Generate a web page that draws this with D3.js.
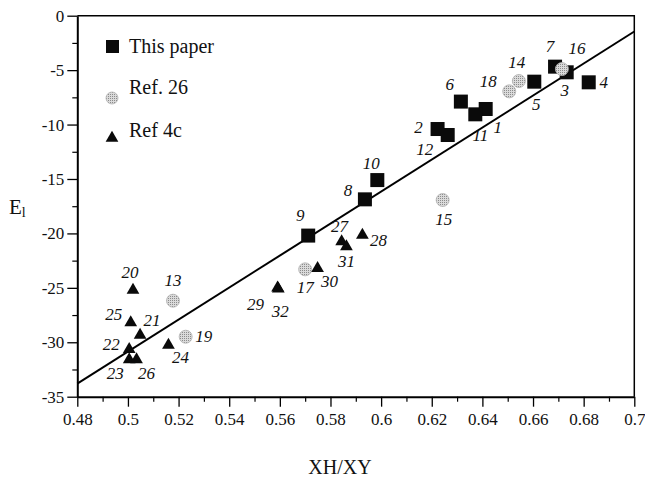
<!DOCTYPE html>
<html>
<head>
<meta charset="utf-8">
<script src="https://cdn.jsdelivr.net/npm/d3@7"></script>
<style>
  body { margin: 0; padding: 0; background: white; }
</style>
</head>
<body>
<div id="main"></div>
<script>
// --- data ---
const thisPaperIds = [1, 2, 3, 4, 5, 6, 7, 8, 9, 10, 11, 12];
const thisPaperX = [0.6413, 0.6223, 0.6733, 0.682, 0.6605, 0.6315, 0.6687, 0.5936, 0.5712, 0.5985, 0.6372, 0.6263];
const thisPaperY = [-8.57, -10.41, -5.2, -6.12, -6.06, -7.89, -4.68, -16.87, -20.2, -15.1, -9.06, -10.96];

const ref26Ids = [13, 14, 15, 16, 17, 18, 19];
const ref26X = [0.5178, 0.6544, 0.6243, 0.6714, 0.5700, 0.6506, 0.5228];
const ref26Y = [-26.18, -6.0, -16.93, -4.9, -23.3, -6.95, -29.49];

const ref4cIds = [20, 21, 22, 23, 24, 25, 26, 27, 28, 29, 30, 31, 32];
const ref4cX = [0.502, 0.5048, 0.5005, 0.5005, 0.516, 0.5011, 0.5034, 0.5844, 0.5926, 0.5591, 0.5749, 0.5863, 0.5594];
const ref4cY = [-25.2, -29.33, -30.64, -31.6, -30.25, -28.2, -31.6, -20.76, -20.15, -25.0, -23.2, -21.2, -25.1];

const fitX = [0.48, 0.7];
const fitY = [-33.8, -1.45];

const xTicks = [0.48, 0.5, 0.52, 0.54, 0.56, 0.58, 0.6, 0.62, 0.64, 0.66, 0.68, 0.7];
const yTicks = [0, -5, -10, -15, -20, -25, -30, -35];
const legendLabels = ['This paper', 'Ref. 26', 'Ref 4c'];

// --- layout: label offsets (dx, dy) from each point ---
const labelOffsets = {
    1: [12, 19], 2: [-19, -2], 3: [-2, 18], 4: [15, 0], 5: [2, 23], 6: [-11, -17],
    7: [-5, -20], 8: [-17, -9], 9: [-8, -20], 10: [-6, -17], 11: [5, 21], 12: [-23, 14],
    13: [0, -20], 14: [-2, -19], 15: [1, 20], 16: [15, -21], 17: [0, 18], 18: [-21, -10], 19: [18, 0],
    20: [-3, -18], 21: [12, -14], 22: [-18, -5], 23: [-14, 14], 24: [12, 13], 25: [-17, -8],
    26: [10, 14], 27: [-2, -15], 28: [16, 5], 29: [-22, 17], 30: [12, 13], 31: [0, 15], 32: [2, 23]
};

const FONT = '"Liberation Serif", serif';
const WIDTH = 645;
const HEIGHT = 479;
const LEFT = 77.3, RIGHT = 634.3, TOP = 15.7, BOTTOM = 396.7;

const scaleX = d3.scaleLinear().domain([0.48, 0.7]).range([LEFT, RIGHT]);
const scaleY = d3.scaleLinear().domain([-35, 0]).range([BOTTOM, TOP]);

const svg = d3.select('#main').append('svg')
    .attr('width', WIDTH)
    .attr('height', HEIGHT);

// stipple pattern for the Ref. 26 markers
const defs = svg.append('defs');
const pat = defs.append('pattern')
    .attr('id', 'stipple')
    .attr('patternUnits', 'userSpaceOnUse')
    .attr('width', 2)
    .attr('height', 2);
pat.append('rect').attr('width', 2).attr('height', 2).attr('fill', '#dadada');
pat.append('rect').attr('width', 1).attr('height', 1).attr('fill', '#8c8c8c');

// frame (top / right)
svg.append('path')
    .attr('d', `M${LEFT},${TOP}H${RIGHT}V${BOTTOM}`)
    .attr('fill', 'none')
    .attr('stroke', 'black')
    .attr('stroke-width', 1.5);

// minor ticks
const xMinor = d3.range(0.49, 0.70, 0.02);
const yMinor = d3.range(-32.5, 0, 5);
svg.append('g')
    .attr('transform', `translate(0, ${BOTTOM})`)
    .call(d3.axisBottom(scaleX).tickValues(xMinor).tickSize(5).tickSizeOuter(0).tickFormat(''))
    .call((g) => g.select('.domain').remove())
    .call((g) => g.selectAll('line').attr('stroke-width', 1.2));
svg.append('g')
    .attr('transform', `translate(${LEFT}, 0)`)
    .call(d3.axisLeft(scaleY).tickValues(yMinor).tickSize(5).tickSizeOuter(0).tickFormat(''))
    .call((g) => g.select('.domain').remove())
    .call((g) => g.selectAll('line').attr('stroke-width', 1.2));

// major axes
const axisX = d3.axisBottom(scaleX).tickValues(xTicks).tickSize(10).tickSizeOuter(0).tickPadding(6)
    .tickFormat((d) => String(+d.toFixed(2)));
const axisY = d3.axisLeft(scaleY).tickValues(yTicks).tickSize(10).tickSizeOuter(0).tickPadding(3)
    .tickFormat((d) => String(d));
svg.append('g')
    .attr('id', 'x-axis')
    .attr('transform', `translate(0, ${BOTTOM})`)
    .call(axisX)
    .attr('font-family', FONT)
    .call((g) => g.select('.domain').attr('stroke-width', 2))
    .call((g) => g.selectAll('line').attr('stroke-width', 1.3))
    .call((g) => g.selectAll('text').attr('font-size', 17).attr('font-family', FONT).attr('fill', '#111'));
svg.append('g')
    .attr('id', 'y-axis')
    .attr('transform', `translate(${LEFT}, 0)`)
    .call(axisY)
    .attr('font-family', FONT)
    .call((g) => g.select('.domain').attr('stroke-width', 2))
    .call((g) => g.selectAll('line').attr('stroke-width', 1.3))
    .call((g) => g.selectAll('text').attr('font-size', 17).attr('font-family', FONT).attr('fill', '#111'));

// axis titles
svg.append('text')
    .attr('x', 340)
    .attr('y', 474)
    .attr('text-anchor', 'middle')
    .attr('font-family', FONT)
    .attr('font-size', 20)
    .attr('fill', '#111')
    .text('XH/XY');
const eLabel = svg.append('text')
    .attr('x', 9)
    .attr('y', 214)
    .attr('font-family', FONT)
    .attr('font-size', 21)
    .attr('fill', '#111');
eLabel.append('tspan').attr('font-family', FONT).text('E');
eLabel.append('tspan').attr('font-family', FONT).attr('font-size', 14).attr('dy', 3).text('l');

// fit line
const fitData = fitX.map((x, i) => ({x, y: fitY[i]}));
svg.append('path')
    .datum(fitData)
    .attr('d', d3.line().x((d) => scaleX(d.x)).y((d) => scaleY(d.y)))
    .attr('fill', 'none')
    .attr('stroke', 'black')
    .attr('stroke-width', 2);

const toPoints = (ids, xs, ys) => ids.map((id, i) => ({id, x: xs[i], y: ys[i]}));
const thisPaper = toPoints(thisPaperIds, thisPaperX, thisPaperY);
const ref26 = toPoints(ref26Ids, ref26X, ref26Y);
const ref4c = toPoints(ref4cIds, ref4cX, ref4cY);

const SQ = 14;
const triangle = d3.symbol().type(d3.symbolTriangle).size(70);

// squares
svg.append('g').selectAll('rect').data(thisPaper).enter().append('rect')
    .attr('x', (d) => scaleX(d.x) - SQ / 2)
    .attr('y', (d) => scaleY(d.y) - SQ / 2)
    .attr('width', SQ)
    .attr('height', SQ)
    .attr('fill', '#0a0a0a');

// stippled circles
svg.append('g').selectAll('circle').data(ref26).enter().append('circle')
    .attr('cx', (d) => scaleX(d.x))
    .attr('cy', (d) => scaleY(d.y))
    .attr('r', 6.5)
    .attr('fill', 'url(#stipple)')
    .attr('stroke', '#b0b0b0')
    .attr('stroke-width', 0.8);

// triangles
svg.append('g').selectAll('path').data(ref4c).enter().append('path')
    .attr('d', triangle)
    .attr('transform', (d) => `translate(${scaleX(d.x)}, ${scaleY(d.y)})`)
    .attr('fill', '#0a0a0a');

// point numbers
const allPoints = thisPaper.concat(ref26, ref4c);
svg.append('g').selectAll('text').data(allPoints).enter().append('text')
    .attr('x', (d) => scaleX(d.x) + labelOffsets[d.id][0])
    .attr('y', (d) => scaleY(d.y) + labelOffsets[d.id][1])
    .attr('text-anchor', 'middle')
    .attr('dominant-baseline', 'central')
    .attr('font-family', FONT)
    .attr('font-size', 17)
    .attr('font-style', 'italic')
    .attr('fill', '#111')
    .text((d) => d.id);

// legend
const legend = svg.append('g').attr('id', 'legend');
legend.append('rect')
    .attr('x', 106).attr('y', 40).attr('width', 13).attr('height', 13)
    .attr('fill', '#0a0a0a');
legend.append('circle')
    .attr('cx', 112).attr('cy', 98).attr('r', 6)
    .attr('fill', 'url(#stipple)').attr('stroke', '#b0b0b0').attr('stroke-width', 0.8);
legend.append('path')
    .attr('d', triangle)
    .attr('transform', 'translate(112, 138)')
    .attr('fill', '#0a0a0a');
legend.selectAll('text').data(legendLabels).enter().append('text')
    .attr('x', 129)
    .attr('y', (d, i) => [53, 94, 137][i])
    .attr('font-family', FONT)
    .attr('font-size', 20)
    .attr('fill', '#111')
    .text((d) => d);
</script>
</body>
</html>
